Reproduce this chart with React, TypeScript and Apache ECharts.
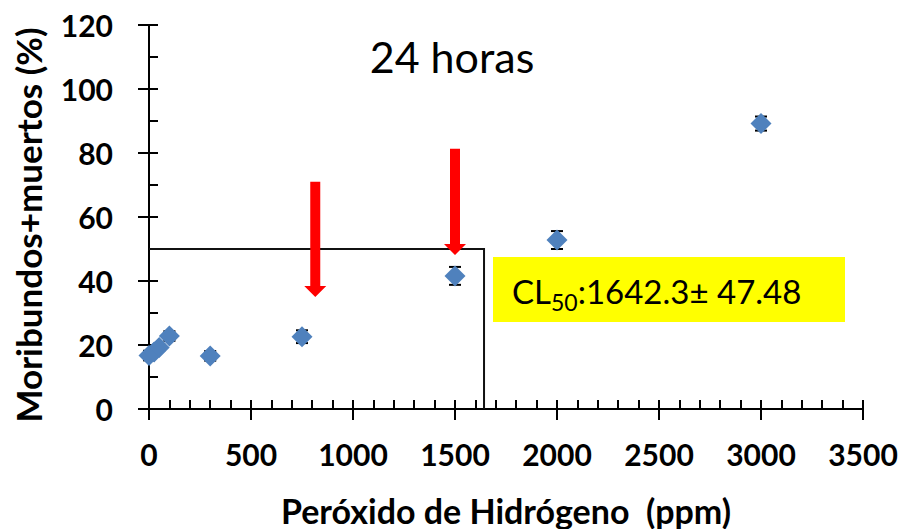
import React, { useEffect, useRef } from "react";
import * as echarts from "echarts";

// ---- data ----
const doses = [0, 25, 50, 100, 300, 750, 1500, 2000, 3000];
const mortality = [16.7, 17.8, 19.2, 22.8, 16.6, 22.6, 41.6, 52.8, 89.2];
const errors = [1.5, 1.0, 1.0, 1.5, 1.5, 2.0, 2.8, 2.8, 2.2];
const arrowX = [815, 1500];
const arrowTop = [71, 81.3];
const arrowTip = [35, 48.1];
const CL50 = 1642.3;
const CL50_ERR = 47.48;
const HALF = 50;
const xTicks = { min: 0, max: 3500, interval: 500 };
const yTicks = { min: 0, max: 120, interval: 20 };
const titleText = "24 horas";
const xName = "Peróxido de Hidrógeno  (ppm)";
const yName = "Moribundos+muertos (%)";

const FONT = "Lato";

function measure(text: string, font: string): number {
  const c = document.createElement("canvas").getContext("2d");
  if (!c) return text.length * 15;
  c.font = font;
  return c.measureText(text).width;
}

export default function App() {
  const ref = useRef<HTMLDivElement>(null);
  useEffect(() => {
    if (!ref.current) return;
    const chart = echarts.init(ref.current, null, { renderer: "svg" });
    const lineStyle = { color: "#000", width: 2 };
    const baseX = {
      type: "value",
      min: xTicks.min,
      max: xTicks.max,
      interval: xTicks.interval,
      position: "bottom",
      splitLine: { show: false },
      axisLine: { show: true, onZero: false, lineStyle },
    };
    const baseY = {
      type: "value",
      min: yTicks.min,
      max: yTicks.max,
      interval: yTicks.interval,
      position: "left",
      splitLine: { show: false },
      axisLine: { show: true, onZero: false, lineStyle },
    };

    const mainSize = 33;
    const subSize = 23;
    const clX = 512;
    const wCL = measure("CL", `${mainSize}px ${FONT}`);
    const w50 = measure("50", `${subSize}px ${FONT}`);
    const restText = `:${CL50.toFixed(1)}± ${CL50_ERR.toFixed(2)}`;

    const option: any = {
      animation: false,
      backgroundColor: "#fff",
      grid: { left: 149, right: 43, top: 25, bottom: 120, containLabel: false, outerBoundsMode: "none" },
      xAxis: [
        {
          ...baseX,
          axisTick: { show: true, inside: false, length: 11, lineStyle },
          axisLabel: {
            show: true,
            margin: 30,
            fontFamily: FONT,
            fontWeight: "bold",
            fontSize: 30,
            color: "#000",
            formatter: (v: number) => String(v),
          },
          name: xName,
          nameLocation: "middle",
          nameGap: 84,
          nameTextStyle: { fontFamily: FONT, fontWeight: "bold", fontSize: 34, color: "#000" },
        },
        {
          ...baseX,
          axisTick: { show: true, inside: true, length: 9, lineStyle },
          minorTick: { show: true, splitNumber: 5, length: 9, lineStyle: { color: "#000", width: 2 } },
          axisLabel: { show: false },
        },
      ],
      yAxis: [
        {
          ...baseY,
          axisTick: { show: true, inside: false, length: 11, lineStyle },
          axisLabel: {
            show: true,
            margin: 36,
            fontFamily: FONT,
            fontWeight: "bold",
            fontSize: 30,
            color: "#000",
            formatter: (v: number) => String(v),
          },
        },
        {
          ...baseY,
          axisTick: { show: true, inside: true, length: 9, lineStyle },
          minorTick: { show: true, splitNumber: 2, length: 9, lineStyle: { color: "#000", width: 2 } },
          axisLabel: { show: false },
        },
      ],
      graphic: [
        {
          type: "text",
          x: 28,
          y: 225,
          rotation: Math.PI / 2,
          style: {
            text: yName,
            fontFamily: FONT,
            fontWeight: "bold",
            fontSize: 35,
            fill: "#000",
            align: "center",
            verticalAlign: "middle",
          },
        },
        {
          type: "text",
          x: 452,
          y: 56,
          style: {
            text: titleText,
            fontFamily: FONT,
            fontSize: 43,
            fill: "#000",
            align: "center",
            verticalAlign: "middle",
          },
        },
        {
          type: "rect",
          shape: { x: 493, y: 257, width: 352, height: 65 },
          style: { fill: "#FFFF00" },
          z: 1,
        },
        {
          type: "text",
          x: clX,
          y: 291,
          z: 2,
          style: { text: "CL", fontFamily: FONT, fontSize: mainSize, fill: "#000", verticalAlign: "middle" },
        },
        {
          type: "text",
          x: clX + wCL,
          y: 302,
          z: 2,
          style: { text: "50", fontFamily: FONT, fontSize: subSize, fill: "#000", verticalAlign: "middle" },
        },
        {
          type: "text",
          x: clX + wCL + w50,
          y: 291,
          z: 2,
          style: { text: restText, fontFamily: FONT, fontSize: mainSize, fill: "#000", verticalAlign: "middle" },
        },
      ],
      series: [
        {
          type: "custom",
          name: "refLines",
          xAxisIndex: 0,
          yAxisIndex: 0,
          z: 1,
          data: [[CL50, HALF]],
          encode: { x: 0, y: 1 },
          renderItem: (_p: any, api: any) => {
            const x = api.value(0);
            const y = api.value(1);
            const a = api.coord([xTicks.min, y]);
            const b = api.coord([x, y]);
            const c = api.coord([x, yTicks.min]);
            return {
              type: "polyline",
              shape: { points: [a, b, c] },
              style: { stroke: "#111", lineWidth: 2, fill: "none" },
            };
          },
        },
        {
          type: "custom",
          name: "errors",
          xAxisIndex: 0,
          yAxisIndex: 0,
          z: 2,
          data: doses.map((d, i) => [d, mortality[i], errors[i]]),
          encode: { x: 0, y: 1 },
          renderItem: (_p: any, api: any) => {
            const x = api.value(0);
            const y = api.value(1);
            const e = api.value(2);
            const t = api.coord([x, y + e]);
            const b = api.coord([x, y - e]);
            const hw = 6;
            const st = { stroke: "#000", lineWidth: 2 };
            return {
              type: "group",
              children: [
                { type: "line", shape: { x1: t[0], y1: t[1], x2: b[0], y2: b[1] }, style: st },
                { type: "line", shape: { x1: t[0] - hw, y1: t[1], x2: t[0] + hw, y2: t[1] }, style: st },
                { type: "line", shape: { x1: b[0] - hw, y1: b[1], x2: b[0] + hw, y2: b[1] }, style: st },
              ],
            };
          },
        },
        {
          type: "scatter",
          name: "mortality",
          xAxisIndex: 0,
          yAxisIndex: 0,
          z: 3,
          symbol: "diamond",
          symbolSize: 21,
          itemStyle: { color: "#4F81BD", opacity: 1 },
          data: doses.map((d, i) => [d, mortality[i]]),
        },
        {
          type: "custom",
          name: "arrows",
          xAxisIndex: 0,
          yAxisIndex: 0,
          z: 4,
          data: arrowX.map((x, i) => [x, arrowTop[i], arrowTip[i]]),
          encode: { x: 0, y: [1, 2] },
          renderItem: (_p: any, api: any) => {
            const x = api.value(0);
            const top = api.coord([x, api.value(1)]);
            const tip = api.coord([x, api.value(2)]);
            const cx = top[0];
            const sw = 5;
            const hw = 11;
            const hl = 11;
            return {
              type: "polygon",
              shape: {
                points: [
                  [cx - sw, top[1]],
                  [cx + sw, top[1]],
                  [cx + sw, tip[1] - hl],
                  [cx + hw, tip[1] - hl],
                  [cx, tip[1]],
                  [cx - hw, tip[1] - hl],
                  [cx - sw, tip[1] - hl],
                ],
              },
              style: { fill: "#FF0000" },
            };
          },
        },
      ],
    };
    chart.setOption(option);
    return () => chart.dispose();
  }, []);
  return (
    <div
      ref={ref}
      style={{ position: "fixed", left: 0, top: 0, width: 906, height: 529 }}
    />
  );
}
